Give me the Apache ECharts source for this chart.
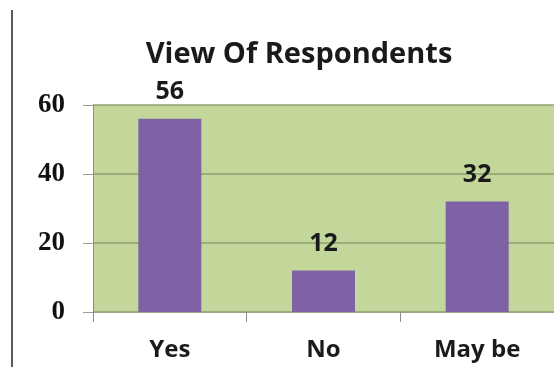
<!DOCTYPE html>
<html>
<head>
<meta charset="utf-8">
<script src="https://cdn.jsdelivr.net/npm/echarts@6/dist/echarts.min.js"></script>
<style>
  html, body { margin: 0; padding: 0; background: #ffffff; }
  #chart { width: 554px; height: 367px; }
</style>
</head>
<body>
<div id="chart"></div>
<script>
// Survey answers and their counts
const categories = ['Yes', 'No', 'May be'];
const respondents = [56, 12, 32];
const yTicks = { min: 0, max: 60, interval: 20 };

const chart = echarts.init(document.getElementById('chart'), null, { renderer: 'canvas' });

chart.setOption({
  backgroundColor: '#ffffff',
  animation: false,
  title: {
    text: 'View Of Respondents',
    left: 294,
    top: 35,
    textAlign: 'center',
    textStyle: {
      fontFamily: 'Open Sans',
      fontWeight: 'bold',
      fontSize: 29,
      color: '#1a1a1a'
    }
  },
  graphic: [
    {
      type: 'line',
      shape: { x1: 12, y1: 10, x2: 12, y2: 367 },
      style: { stroke: '#5a5a5a', lineWidth: 2 }
    }
  ],
  grid: {
    left: 93,
    right: -4,
    top: 105,
    bottom: 55,
    show: true,
    backgroundColor: '#c4d79b',
    borderWidth: 0
  },
  xAxis: {
    type: 'category',
    data: categories,
    axisLine: { show: true, lineStyle: { color: '#9aa58a', width: 1 } },
    axisTick: { show: true, length: 10, lineStyle: { color: '#8a8f84' } },
    axisLabel: {
      margin: 26,
      fontFamily: 'Open Sans',
      fontWeight: 'bold',
      fontSize: 24,
      color: '#1a1a1a'
    }
  },
  yAxis: {
    type: 'value',
    min: yTicks.min,
    max: yTicks.max,
    interval: yTicks.interval,
    axisLine: { show: true, lineStyle: { color: '#8a9478', width: 1 } },
    axisTick: { show: true, length: 10, lineStyle: { color: '#9a9f94' } },
    splitLine: { show: true, lineStyle: { color: '#8f9f72', width: 1.5 } },
    axisLabel: {
      margin: 28,
      fontFamily: 'Liberation Serif',
      fontWeight: 'bold',
      fontSize: 27,
      color: '#111111'
    }
  },
  series: [
    {
      type: 'bar',
      data: respondents,
      barWidth: 63,
      itemStyle: { color: '#7f62a6' },
      label: {
        show: true,
        position: 'top',
        distance: 14,
        fontFamily: 'Open Sans',
        fontWeight: 'bold',
        fontSize: 25,
        color: '#1a1a1a'
      }
    }
  ]
});
</script>
</body>
</html>
